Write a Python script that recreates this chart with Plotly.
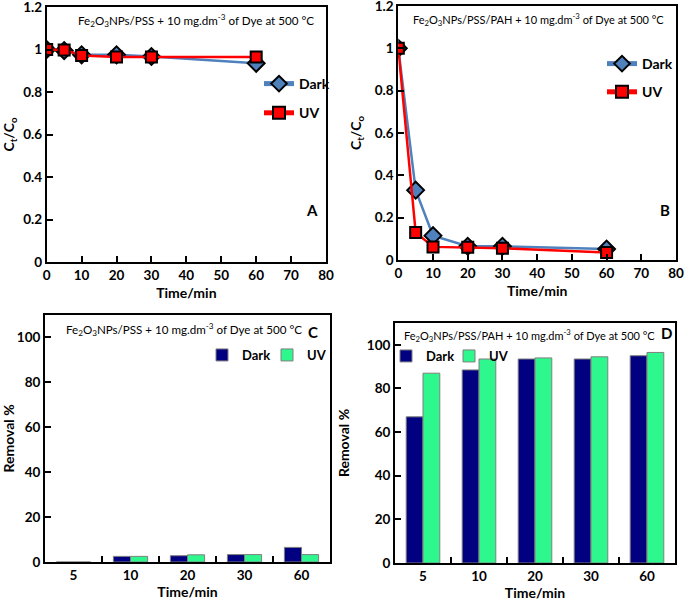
import plotly.graph_objects as go

# ---- data ----
time_min = [0, 5, 10, 20, 30, 60]
a_dark = [1.0, 0.995, 0.975, 0.975, 0.967, 0.935]
a_uv = [1.0, 0.998, 0.972, 0.965, 0.965, 0.965]
b_dark = [1.0, 0.33, 0.115, 0.065, 0.065, 0.052]
b_uv = [1.0, 0.13, 0.062, 0.06, 0.055, 0.035]
bar_cats = ["5", "10", "20", "30", "60"]
c_dark = [0, 2.5, 2.8, 3.3, 6.5]
c_uv = [0, 2.5, 3.2, 3.3, 3.3]
d_dark = [67, 88.5, 93.5, 93.5, 95]
d_uv = [87, 93.5, 94, 94.5, 96.5]
line_yticks = [0, 0.2, 0.4, 0.6, 0.8, 1.0, 1.2]
line_yticklabels = ["0", "0.2", "0.4", "0.6", "0.8", "1", "1.2"]
bar_yticks = [0, 20, 40, 60, 80, 100]

title_pss = "Fe<sub>2</sub>O<sub>3</sub>NPs/PSS + 10 mg.dm<sup>-3</sup> of Dye at 500 °C"
title_pah = "Fe<sub>2</sub>O<sub>3</sub>NPs/PSS/PAH + 10 mg.dm<sup>-3</sup> of Dye at 500 °C"

W, H = 685, 602
FONT = "Lato"
BLUE = "#4F81BD"
RED = "#FF0000"
NAVY = "#000080"
GREEN = "#2EF78E"


def px_x(x):
    return x / W


def px_y(y):
    return 1 - y / H


fig = go.Figure()

dark_marker = dict(symbol="diamond", size=13, color=BLUE, line=dict(color="black", width=2))
uv_marker = dict(symbol="square", size=11, color=RED, line=dict(color="black", width=2))

fig.add_trace(go.Scatter(x=time_min, y=a_dark, name="Dark", mode="lines+markers",
                         line=dict(color=BLUE, width=2.5), marker=dark_marker,
                         xaxis="x", yaxis="y", legend="legend", legendgroup="a1"))
fig.add_trace(go.Scatter(x=time_min, y=a_uv, name="UV", mode="lines+markers",
                         line=dict(color=RED, width=2.5), marker=uv_marker,
                         xaxis="x", yaxis="y", legend="legend", legendgroup="a2"))
fig.add_trace(go.Scatter(x=time_min, y=b_dark, name="Dark", mode="lines+markers",
                         line=dict(color=BLUE, width=2.5), marker=dark_marker,
                         xaxis="x2", yaxis="y2", legend="legend2", legendgroup="b1"))
fig.add_trace(go.Scatter(x=time_min, y=b_uv, name="UV", mode="lines+markers",
                         line=dict(color=RED, width=2.5), marker=uv_marker,
                         xaxis="x2", yaxis="y2", legend="legend2", legendgroup="b2"))

bar_line = dict(color="#7f7f7f", width=1)
fig.add_trace(go.Bar(x=bar_cats, y=c_dark, name="Dark", marker=dict(color=NAVY, line=bar_line),
                     xaxis="x3", yaxis="y3", legend="legend3"))
fig.add_trace(go.Bar(x=bar_cats, y=c_uv, name="UV", marker=dict(color=GREEN, line=bar_line),
                     xaxis="x3", yaxis="y3", legend="legend3"))
fig.add_trace(go.Bar(x=bar_cats, y=d_dark, name="Dark", marker=dict(color=NAVY, line=bar_line),
                     xaxis="x4", yaxis="y4", legend="legend4"))
fig.add_trace(go.Bar(x=bar_cats, y=d_uv, name="UV", marker=dict(color=GREEN, line=bar_line),
                     xaxis="x4", yaxis="y4", legend="legend4"))

tickfont = dict(family=FONT, size=13.5, color="black", weight="bold")
titlefont = dict(family=FONT, size=14, color="black", weight="bold")


def ax(domain, **kw):
    d = dict(domain=domain, showline=True, linecolor="black", linewidth=2, mirror=True,
             ticks="inside", ticklen=6, tickwidth=1.5, tickcolor="black",
             showgrid=False, zeroline=False, tickfont=tickfont, ticklabeloverflow="allow",
             automargin=False)
    d.update(kw)
    return d


# panel pixel boxes: (left, right, top, bottom)
A = (46.7, 326, 7, 262)
B = (398.3, 676, 6, 260)
C = (45, 330, 315, 562)
D = (395, 675, 323, 563)


def xd(b):
    return [px_x(b[0]), px_x(b[1])]


def yd(b):
    return [px_y(b[3]), px_y(b[2])]


legfont = dict(family=FONT, size=14, color="black", weight="bold")
barlegfont = dict(family=FONT, size=13, color="black", weight="bold")

fig.update_layout(
    width=W, height=H,
    margin=dict(l=0, r=0, t=0, b=0, autoexpand=False),
    paper_bgcolor="white", plot_bgcolor="white",
    font=dict(family=FONT, color="black"),
    barmode="group", bargap=0.4, bargroupgap=0,
    xaxis=ax(xd(A), anchor="y", range=[0, 80], dtick=10,
             title=dict(text="Time/min", font=titlefont, standoff=6)),
    yaxis=ax(yd(A), anchor="x", range=[0, 1.2], tickvals=line_yticks, ticktext=line_yticklabels,
             title=dict(text="C<sub>t</sub>/C<sub>o</sub>", font=titlefont, standoff=10)),
    xaxis2=ax(xd(B), anchor="y2", range=[0, 80], dtick=10,
              title=dict(text="Time/min", font=titlefont, standoff=6)),
    yaxis2=ax(yd(B), anchor="x2", range=[0, 1.2], tickvals=line_yticks, ticktext=line_yticklabels,
              title=dict(text="C<sub>t</sub>/C<sub>o</sub>", font=titlefont, standoff=10)),
    xaxis3=ax(xd(C), anchor="y3", type="category", tickson="boundaries", range=[-0.5, 4.5],
              title=dict(text="Time/min", font=titlefont, standoff=4)),
    yaxis3=ax(yd(C), anchor="x3", range=[0, 110], tickvals=bar_yticks,
              title=dict(text="Removal %", font=titlefont, standoff=14)),
    xaxis4=ax(xd(D), anchor="y4", type="category", tickson="boundaries", range=[-0.5, 4.5],
              title=dict(text="Time/min", font=titlefont, standoff=4)),
    yaxis4=ax(yd(D), anchor="x4", range=[0, 110], tickvals=bar_yticks,
              title=dict(text="Removal %", font=titlefont, standoff=14)),
    legend=dict(x=px_x(259), y=px_y(68), xanchor="left", yanchor="top", bgcolor="rgba(0,0,0,0)",
                font=legfont, tracegroupgap=8, itemsizing="constant", itemwidth=30),
    legend2=dict(x=px_x(602), y=px_y(48), xanchor="left", yanchor="top", bgcolor="rgba(0,0,0,0)",
                 font=legfont, tracegroupgap=7, itemsizing="constant", itemwidth=30),
    legend3=dict(x=px_x(202), y=px_y(340), xanchor="left", yanchor="top", orientation="h",
                 bgcolor="rgba(0,0,0,0)", font=barlegfont, itemwidth=30, entrywidth=20),
    legend4=dict(x=px_x(386), y=px_y(341), xanchor="left", yanchor="top", orientation="h",
                 bgcolor="rgba(0,0,0,0)", font=barlegfont, itemwidth=30, entrywidth=18),
)

ann_font = dict(family=FONT, size=11.6, color="black")
pah_font = dict(family=FONT, size=11, color="black")
lab_font = dict(family=FONT, size=15, color="black", weight="bold")
anns = [
    (title_pss, 196, 21, ann_font),
    (title_pah, 538, 20, pah_font),
    (title_pss, 184, 329, ann_font),
    (title_pah, 529, 335, pah_font),
    ("A", 312, 210, lab_font),
    ("B", 665, 210, lab_font),
    ("C", 313, 332, lab_font),
    ("D", 666, 333, lab_font),
]
for text, x, y, f in anns:
    fig.add_annotation(text=text, x=px_x(x), y=px_y(y), xref="paper", yref="paper",
                       xanchor="center", yanchor="middle", showarrow=False, font=f)

fig.write_html("out.html", config={"displayModeBar": False},
               post_script="document.body.style.margin='0px';")
